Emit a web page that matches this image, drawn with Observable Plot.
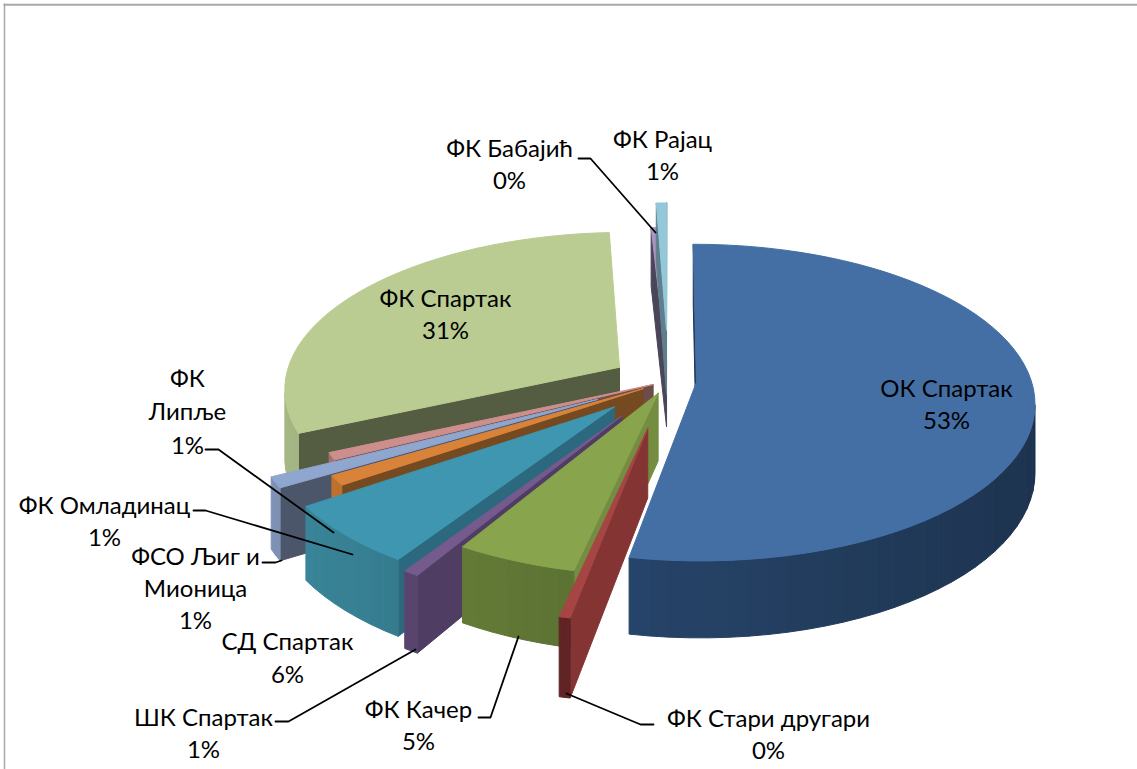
<!DOCTYPE html>
<html><head><meta charset="utf-8">
<style>html,body{margin:0;padding:0;background:#fff;overflow:hidden}svg{display:block}</style>
<script src="https://cdn.jsdelivr.net/npm/d3@7"></script>
<script src="https://cdn.jsdelivr.net/npm/@observablehq/plot@0.6"></script>
</head><body><script>
// data
const clubs = ["ОК Спартак","ФК Стари другари","ФК Качер","ШК Спартак","СД Спартак","ФСО Љиг и Мионица","ФК Омладинац","ФК Липље","ФК Спартак","ФК Бабајић","ФК Рајац"];
const shares = [52.95,0.45,5.1,0.65,6.2,1.0,1.1,0.75,30.9,0.27,0.58];
// pie styling
const explode = [28,100,28,86,76,30,80,17,58,44,115];
const topColors = ["#446fa5","#a54644","#88a44c","#745a8d","#3e96b0","#d9833a","#8fa6cf","#cc8f8d","#bacc92","#a795bf","#93c8da"];
const sideColors = ["#1d3553","#853434","#748d40","#4f3d63","#2c697e","#764a20","#4c566b","#6e4c4a","#545c42","#4a4558","#5f7f8c"];
const rimColors = ["#2f5380","#742c2c","#708a3e","#644c7c","#3c8a9f","#c5762f","#8296ba","#a87472","#a6b885","#8a7aa0","#7aa8b8"];
const paintOrder = [8,9,10,7,6,5,4,3,2,1,0];
const cx=668, cy=380.6, R=335, k=0.464, persp=0.128, depth=67;
// labels
const labelLines = [
 ["ФК Бабајић",509,149],["0%",509,181],["ФК Рајац",662,140],["1%",662,172],
 ["ФК Спартак",445,299],["31%",445,331],["ОК Спартак",946,389],["53%",946,421],
 ["ФК",187,379],["Липље",187,412],["1%",187,446],
 ["ФК Омладинац",104,506],["1%",104,538],
 ["ФСО Љиг и",195,557],["Мионица",195,589],["1%",195,621],
 ["СД Спартак",287,642],["6%",287,675],
 ["ШК Спартак",203,718],["1%",203,750],
 ["ФК Качер",418,710],["5%",418,742],
 ["ФК Стари другари",768,719],["0%",768,751]
];
const leaders = [
 [[578,158],[590,158],[655,232]],
 [[205,449],[218,449],[333,532]],
 [[193,510],[205,510],[352,554]],
 [[262,562],[275,562],[281,560]],
 [[275,721],[288,721],[415,649]],
 [[478,717],[490,717],[518,636]],
 [[653,724],[640,724],[566,693]]
];
// geometry from the values
const total = d3.sum(shares);
let acc = 0;
const slices = shares.map((v,i)=>{const a0=acc/total*2*Math.PI; acc+=v; const a1=acc/total*2*Math.PI; return {i,a0,a1,mid:(a0+a1)/2,E:explode[i]};});
function proj(s,th,r,z){
  const X=Math.sin(th)*r+Math.sin(s.mid)*s.E, Y=-Math.cos(th)*r-Math.cos(s.mid)*s.E;
  const f=1/(1-persp*Y/R);
  return [cx+X*f, cy+Y*k*f+z*depth*f];
}
function area(p){let a=0;for(let i=0;i<p.length;i++){const q=p[(i+1)%p.length];a+=p[i][0]*q[1]-q[0]*p[i][1];}return a/2;}
const rows=[]; let fid=0;
function face(pts,color){const id=fid++;pts.forEach(p=>rows.push({x:p[0],y:p[1],face:id,color}));pts.length&&rows.push({x:pts[0][0],y:pts[0][1],face:id,color});}
for(const idx of paintOrder){
  const s=slices[idx];
  const n=Math.max(2,Math.ceil((s.a1-s.a0)/(Math.PI/60)));
  const ths=d3.range(n+1).map(j=>s.a0+(s.a1-s.a0)*j/n);
  const side=sideColors[idx], rim=d3.rgb(rimColors[idx]);
  const wall=(a,b,c)=>{const q=[proj(s,...a,0),proj(s,...b,0),proj(s,...b,1),proj(s,...a,1)]; if(area(q)<0) face(q,c);};
  wall([s.a0,0],[s.a0,R],side);
  wall([s.a1,R],[s.a1,0],side);
  for(let j=0;j<n;j++){
    const t=(Math.sin((ths[j]+ths[j+1])/2)+1)/2;
    wall([ths[j],R],[ths[j+1],R],rim.darker(t*1.35).formatHex());
  }
  face([proj(s,0,0,0),...ths.map(t=>proj(s,t,R,0))],topColors[idx]);
}
const labels = labelLines.map(([text,x,y])=>({text,x,y}));
const leaderRows = leaders.flatMap((l,id)=>l.map(([x,y])=>({x,y,id})));
const chart = Plot.plot({
  width:1137,height:769,margin:0,
  x:{domain:[0,1137],range:[0,1137],axis:null},
  y:{domain:[0,769],range:[0,769],axis:null},
  color:{type:"identity"},
  marks:[
    Plot.ruleY([4.3],{x1:3.5,x2:1137,stroke:"#a8a8a8",strokeWidth:2}),
    Plot.ruleX([4],{y1:3.5,y2:769,stroke:"#a8a8a8",strokeWidth:1.5}),
    Plot.line(rows,{x:"x",y:"y",z:"face",fill:"color",stroke:"color",strokeWidth:1,curve:"linear"}),
    Plot.line(leaderRows,{x:"x",y:"y",z:"id",stroke:"#000",strokeWidth:1.8,curve:"linear"}),
    Plot.text(labels,{x:"x",y:"y",text:"text",fontSize:24,fill:"#000",fontFamily:"Lato, 'Open Sans', sans-serif"})
  ]
});
document.body.appendChild(chart);
</script></body></html>
